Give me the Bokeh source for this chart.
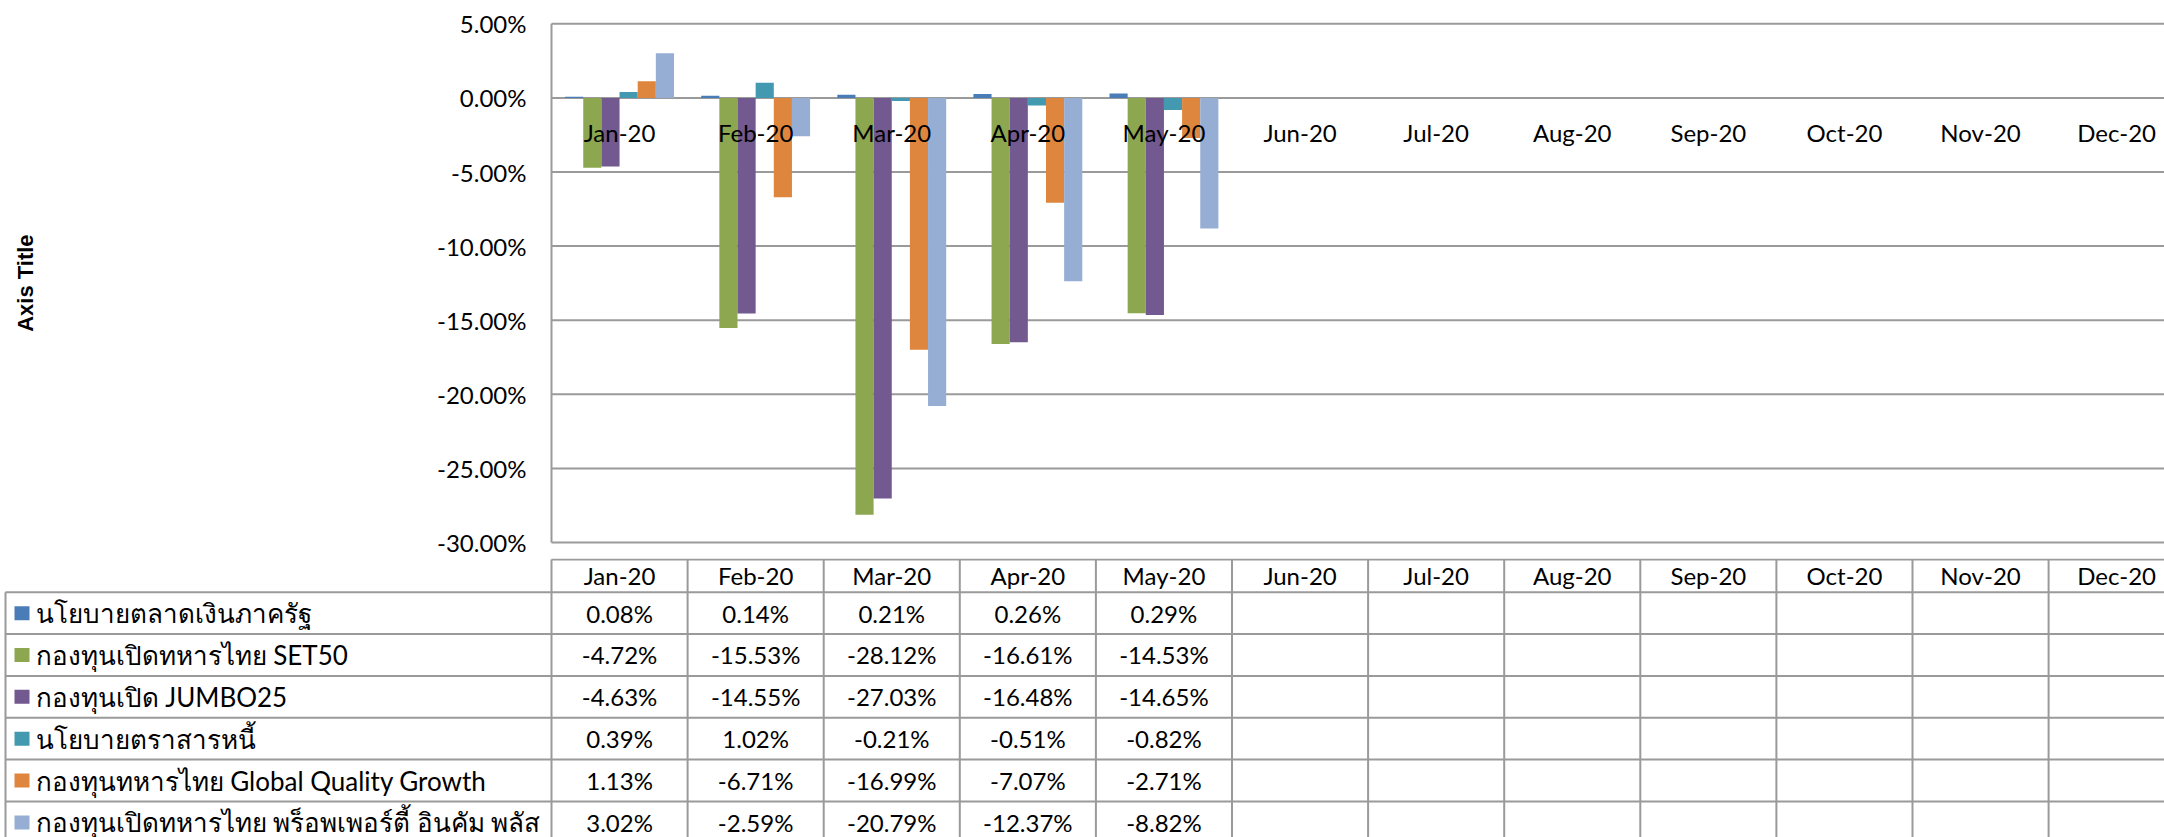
import math
from bokeh.plotting import figure
from bokeh.layouts import column
from bokeh.models import Range1d
from bokeh.core.properties import value
from bokeh.embed import file_html
from bokeh.resources import INLINE

# ---------------- data ----------------
months = ["Jan-20", "Feb-20", "Mar-20", "Apr-20", "May-20", "Jun-20",
          "Jul-20", "Aug-20", "Sep-20", "Oct-20", "Nov-20", "Dec-20"]

series_names = [
    "นโยบายตลาดเงินภาครัฐ",
    "กองทุนเปิดทหารไทย SET50",
    "กองทุนเปิด JUMBO25",
    "นโยบายตราสารหนี้",
    "กองทุนทหารไทย Global Quality Growth",
    "กองทุนเปิดทหารไทย พร็อพเพอร์ตี้ อินคัม พลัส",
]
money_market = [0.08, 0.14, 0.21, 0.26, 0.29]
set50 = [-4.72, -15.53, -28.12, -16.61, -14.53]
jumbo25 = [-4.63, -14.55, -27.03, -16.48, -14.65]
fixed_income = [0.39, 1.02, -0.21, -0.51, -0.82]
global_quality = [1.13, -6.71, -16.99, -7.07, -2.71]
property_income = [3.02, -2.59, -20.79, -12.37, -8.82]
series_values = [money_market, set50, jumbo25, fixed_income, global_quality, property_income]

y_ticks = [5, 0, -5, -10, -15, -20, -25, -30]
axis_title = "Axis Title"

colors = ["#4A7DB8", "#8CA74F", "#72598F", "#4399AF", "#DE853E", "#96ADD4"]

# ---------------- layout constants (pixels) ----------------
W = 2164
H1 = 558
H2 = 279
PX = 136.1                     # pixels per month column
X0 = 551                       # x of plot-area left edge
X_START = (0 - X0) / PX
X_END = (W - X0) / PX
Y_TOP_PX = 23.3                # pixel row of the top tick
Y_BOT_PX = 542.0               # pixel row of the bottom tick
PPU = (Y_BOT_PX - Y_TOP_PX) / (max(y_ticks) - min(y_ticks))
Y_HI = max(y_ticks) + Y_TOP_PX / PPU
Y_LO = min(y_ticks) - (H1 - Y_BOT_PX) / PPU

FONT = "Lato"
FS = "24px"
GRID = "#9A9A9A"

def fx(px):
    return (px - X0) / PX

# ---------------- chart ----------------
p1 = figure(width=W, height=H1, output_backend="svg", toolbar_location=None,
            x_range=Range1d(X_START, X_END), y_range=Range1d(Y_LO, Y_HI),
            x_axis_location=None, y_axis_location=None,
            min_border_left=0, min_border_right=0,
            min_border_top=0, min_border_bottom=0)
p1.outline_line_color = None
p1.grid.visible = False

# gridlines
p1.segment(x0=[0] * len(y_ticks), y0=y_ticks, x1=[X_END + 1] * len(y_ticks), y1=y_ticks,
           line_color=GRID, line_width=2)
# value axis line
p1.segment(x0=[0], y0=[min(y_ticks)], x1=[0], y1=[max(y_ticks)],
           line_color=GRID, line_width=2)
# tick labels
p1.text(x=[0] * len(y_ticks), y=y_ticks, text=["%.2f%%" % t for t in y_ticks],
        x_offset=-25, text_align="right", text_baseline="middle",
        text_font=value(FONT), text_font_size=FS, text_color="black")
# axis title
p1.text(x=[fx(25)], y=[(max(y_ticks) + min(y_ticks)) / 2], text=[axis_title],
        angle=math.pi / 2, text_align="center", text_baseline="middle",
        text_font=value("Liberation Sans"), text_font_style="bold",
        text_font_size="22px", text_color="black")

bw = 0.8 / 6
for j, vals in enumerate(series_values):
    xs = [i + 0.5 + (j - 2.5) * bw for i in range(len(vals))]
    p1.vbar(x=xs, top=vals, bottom=0, width=bw, fill_color=colors[j],
            line_color=None)

p1.text(x=[i + 0.5 for i in range(len(months))], y=[0] * len(months),
        text=months, y_offset=35, text_align="center", text_baseline="middle",
        text_font=value(FONT), text_font_size=FS, text_color="black")

# ---------------- data table ----------------
p2 = figure(width=W, height=H2, output_backend="svg", toolbar_location=None,
            x_range=Range1d(X_START, X_END), y_range=Range1d(H2, 0),
            x_axis_location=None, y_axis_location=None,
            min_border_left=0, min_border_right=0,
            min_border_top=0, min_border_bottom=0)
p2.outline_line_color = None
p2.grid.visible = False

head_top = 1.0
head_bot = 33.7
row_h = 41.85
left_border = fx(5)
n_rows = len(series_names)

sx0, sy0, sx1, sy1 = [], [], [], []
sx0.append(0); sy0.append(head_top); sx1.append(X_END + 1); sy1.append(head_top)
for r in range(n_rows + 1):
    y = head_bot + r * row_h
    sx0.append(left_border); sy0.append(y); sx1.append(X_END + 1); sy1.append(y)
for k in range(len(months) + 1):
    sx0.append(k); sy0.append(head_top); sx1.append(k); sy1.append(H2 + 20)
sx0.append(left_border); sy0.append(head_bot); sx1.append(left_border); sy1.append(H2 + 20)
p2.segment(x0=sx0, y0=sy0, x1=sx1, y1=sy1, line_color=GRID, line_width=2)

p2.text(x=[i + 0.5 for i in range(len(months))], y=[(head_top + head_bot) / 2] * len(months),
        text=months, text_align="center", text_baseline="middle",
        text_font=value(FONT), text_font_size=FS, text_color="black")

row_c = [head_bot + (r + 0.5) * row_h for r in range(n_rows)]
p2.rect(x=[fx(21.5)] * n_rows, y=row_c, width=15, height=14,
        width_units="screen", height_units="screen",
        fill_color=colors, line_color=None)
p2.text(x=[fx(35)] * n_rows, y=row_c, text=series_names,
        text_align="left", text_baseline="middle",
        text_font=value(FONT), text_font_size="26px", text_color="black")

vx, vy, vt = [], [], []
for r, vals in enumerate(series_values):
    for i, v in enumerate(vals):
        vx.append(i + 0.5)
        vy.append(row_c[r])
        vt.append("%.2f%%" % v)
p2.text(x=vx, y=vy, text=vt, text_align="center", text_baseline="middle",
        text_font=value(FONT), text_font_size=FS, text_color="black")

layout = column(p1, p2, spacing=0)
open("out.html", "w").write(file_html(layout, INLINE))
